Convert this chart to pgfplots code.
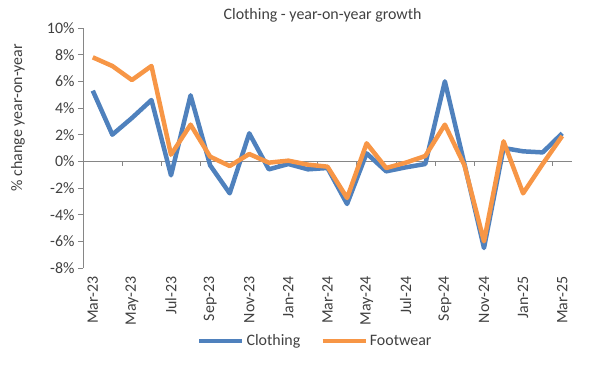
\documentclass[border=0pt]{standalone}
\usepackage{pgfplots}
\pgfplotsset{compat=1.18}
\usepackage{pgfplotstable}
\usepackage{fontspec}
\setmainfont{Carlito}
\definecolor{cloth}{HTML}{4F81BD}
\definecolor{foot}{HTML}{F79646}
\definecolor{axgray}{HTML}{868686}
\definecolor{txt}{HTML}{404040}

\pgfplotstableread{
x clothing footwear
0 5.3 7.8
1 2.0 7.15
2 3.25 6.1
3 4.6 7.15
4 -1.05 0.5
5 4.95 2.75
6 -0.3 0.35
7 -2.4 -0.35
8 2.1 0.55
9 -0.6 -0.1
10 -0.2 0.05
11 -0.6 -0.25
12 -0.5 -0.4
13 -3.2 -2.75
14 0.6 1.35
15 -0.75 -0.5
16 -0.45 -0.1
17 -0.2 0.4
18 6.0 2.75
19 -0.2 -0.3
20 -6.5 -6.0
21 1.0 1.5
22 0.75 -2.4
23 0.67 -0.2
24 2.1 1.9
}\datatable

\begin{document}
\begin{tikzpicture}[font=\fontsize{16}{19}\selectfont, text=txt]
\useasboundingbox (-83bp,-107bp) rectangle (517bp,268bp);
\begin{axis}[
  at={(0,0)}, anchor=south west,
  scale only axis, width=489bp, height=240bp,
  xmin=-0.5, xmax=24.5, ymin=-8, ymax=10,
  axis y line*=left, axis x line*=bottom,
  x axis line style={draw=none},
  y axis line style={axgray, line width=0.8bp, -},
  xtick={0,2,...,24},
  xticklabels={Mar-23,May-23,Jul-23,Sep-23,Nov-23,Jan-24,Mar-24,May-24,Jul-24,Sep-24,Nov-24,Jan-25,Mar-25},
  x tick style={draw=none},
  xticklabel style={rotate=90, anchor=east, font=\fontsize{16}{19}\selectfont, text=txt},
  ytick={-8,-6,...,10},
  yticklabel={\pgfmathprintnumber{\tick}\%},
  yticklabel style={font=\fontsize{16}{19}\selectfont, text=txt},
  y tick style={axgray, line width=0.8bp},
  tick align=outside,
  major tick length=5bp,
  /pgf/number format/assume math mode=true,
  legend style={at={(0.475,-0.304)}, anchor=center, draw=none, fill=none,
    legend columns=2, font=\fontsize{16}{19}\selectfont, text=txt,
    /tikz/every even column/.append style={column sep=18bp},
    nodes={inner sep=2bp}},
  legend image code/.code={\draw[#1] (0bp,0bp) -- (43bp,0bp);},
  clip=false,
]
\draw[axgray, line width=0.8bp] (axis cs:-0.5,0) -- (axis cs:24.5,0);
\pgfplotsinvokeforeach{1.5,3.5,5.5,7.5,9.5,11.5,13.5,15.5,17.5,19.5,21.5,23.5}{
  \draw[axgray, line width=0.8bp] (axis cs:#1,0) -- ([yshift=-5bp]axis cs:#1,0);}
\addplot[cloth, line width=4.5bp, line join=round] table[x=x, y=clothing] {\datatable};
\addlegendentry{Clothing}
\addplot[foot, line width=4.5bp, line join=round] table[x=x, y=footwear] {\datatable};
\addlegendentry{Footwear}
\node[anchor=center, yshift=13bp] at (rel axis cs:0.49,1) {Clothing - year-on-year growth};
\node[rotate=90, anchor=center] at (rel axis cs:-0.133,0.627) {\% change year-on-year};
\end{axis}
\end{tikzpicture}
\end{document}
